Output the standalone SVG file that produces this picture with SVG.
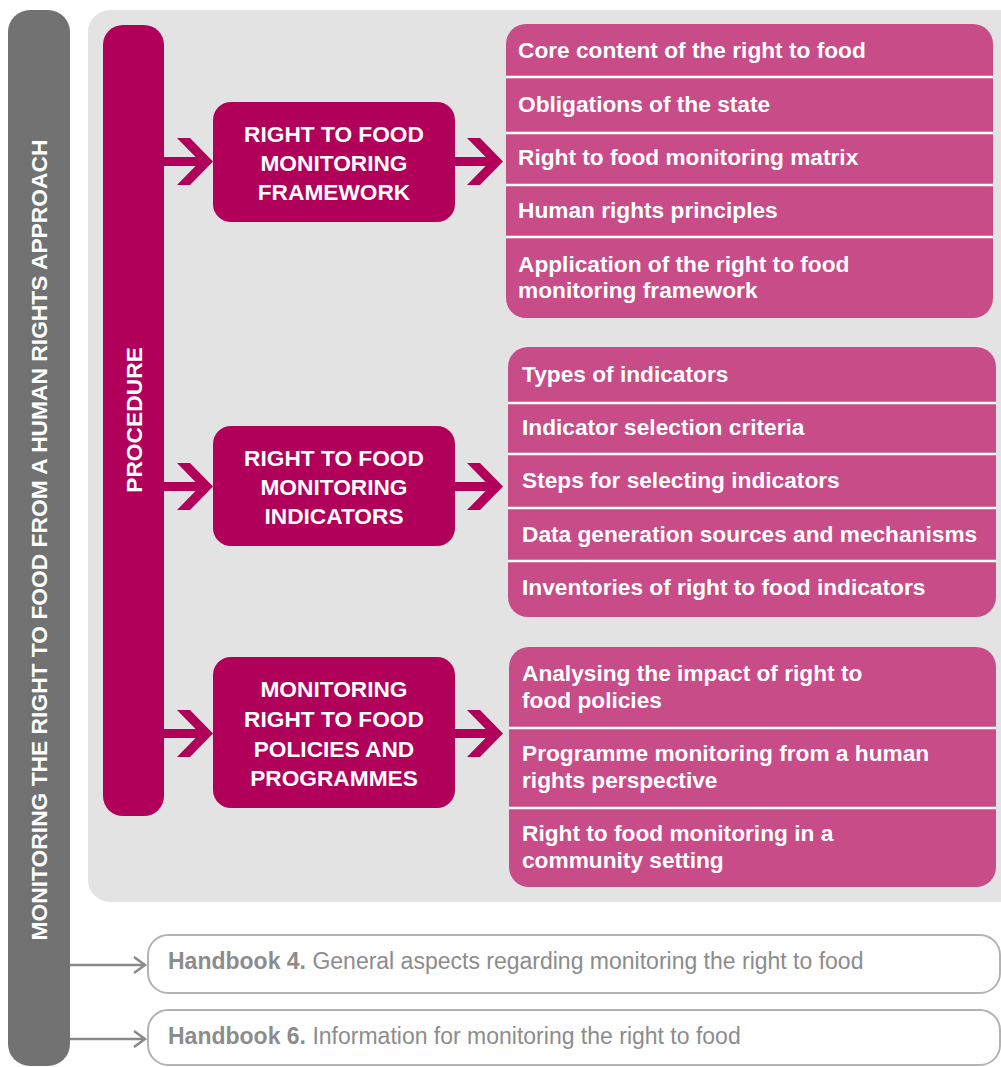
<svg xmlns="http://www.w3.org/2000/svg" width="1001" height="1067" viewBox="0 0 1001 1067">
<style>
.dark{fill:#b0005a}
.list{fill:#c84c88}
.sep{stroke:#ffffff;stroke-width:2.5}
.bt{font-family:"Liberation Sans",Arial,sans-serif;font-weight:bold;font-size:22.7px;fill:#ffffff;text-anchor:middle}
.lt{font-family:"Liberation Sans",Arial,sans-serif;font-weight:bold;font-size:22.7px;fill:#ffffff}
.vt{font-family:"Liberation Sans",Arial,sans-serif;font-weight:bold;font-size:22.8px;fill:#ffffff;text-anchor:middle}
.hb{fill:#ffffff;stroke:#b3b3b3;stroke-width:2}
.ht{font-family:"Liberation Sans",Arial,sans-serif;font-size:23px;fill:#8c8c8c}
.conn{fill:none;stroke:#8a8a8a;stroke-width:2.5}
</style>
<rect width="1001" height="1067" fill="#ffffff"/>
<g id="sidebar">
<rect x="8" y="10" width="62" height="1056" rx="22" fill="#727272"/>
<text class="vt" transform="translate(47,540) rotate(-90)">MONITORING THE RIGHT TO FOOD FROM A HUMAN RIGHTS APPROACH</text>
</g>
<g id="panel">
<rect x="88" y="10" width="940" height="892" rx="22" fill="#e3e3e3"/>
</g>
<g id="procedure">
<rect class="dark" x="103" y="25" width="61" height="791" rx="20"/>
<text class="vt" transform="translate(142,420) rotate(-90)">PROCEDURE</text>
</g>
<g id="connectors">
<rect class="dark" x="164" y="157" width="36" height="9"/>
<polygon class="dark" points="177,138 190,138 213,161.5 190,185 177,185 200,161.5"/>
<rect class="dark" x="455" y="157" width="36" height="9"/>
<polygon class="dark" points="467,138 480,138 503,161.5 480,185 467,185 490,161.5"/>
<rect class="dark" x="164" y="482" width="36" height="9"/>
<polygon class="dark" points="177,463 190,463 213,486.5 190,510 177,510 200,486.5"/>
<rect class="dark" x="455" y="482" width="36" height="9"/>
<polygon class="dark" points="467,463 480,463 503,486.5 480,510 467,510 490,486.5"/>
<rect class="dark" x="164" y="729" width="36" height="9"/>
<polygon class="dark" points="177,710 190,710 213,733.5 190,757 177,757 200,733.5"/>
<rect class="dark" x="455" y="729" width="36" height="9"/>
<polygon class="dark" points="467,710 480,710 503,733.5 480,757 467,757 490,733.5"/>
<line class="conn" x1="70" y1="965" x2="145" y2="965"/>
<polyline class="conn" points="134,957 145,965 134,973"/>
<line class="conn" x1="70" y1="1039" x2="145" y2="1039"/>
<polyline class="conn" points="134,1031 145,1039 134,1047"/>
</g>
<g id="framework">
<rect class="dark" x="213" y="102" width="242" height="120" rx="18"/>
<text class="bt" x="334" y="142">RIGHT TO FOOD</text>
<text class="bt" x="334" y="171">MONITORING</text>
<text class="bt" x="334" y="200">FRAMEWORK</text>
</g>
<g id="indicators">
<rect class="dark" x="213" y="426" width="242" height="120" rx="18"/>
<text class="bt" x="334" y="466">RIGHT TO FOOD</text>
<text class="bt" x="334" y="495">MONITORING</text>
<text class="bt" x="334" y="524">INDICATORS</text>
</g>
<g id="policies">
<rect class="dark" x="213" y="657" width="242" height="151" rx="18"/>
<text class="bt" x="334" y="697">MONITORING</text>
<text class="bt" x="334" y="727">RIGHT TO FOOD</text>
<text class="bt" x="334" y="757">POLICIES AND</text>
<text class="bt" x="334" y="786">PROGRAMMES</text>
</g>
<g id="framework-list">
<rect class="list" x="506" y="24" width="487" height="294" rx="20"/>
<line class="sep" x1="506" y1="77" x2="993" y2="77"/>
<line class="sep" x1="506" y1="133" x2="993" y2="133"/>
<line class="sep" x1="506" y1="185" x2="993" y2="185"/>
<line class="sep" x1="506" y1="237" x2="993" y2="237"/>
<text class="lt" x="518" y="58">Core content of the right to food</text>
<text class="lt" x="518" y="112">Obligations of the state</text>
<text class="lt" x="518" y="165">Right to food monitoring matrix</text>
<text class="lt" x="518" y="218">Human rights principles</text>
<text class="lt" x="518" y="272">Application of the right to food</text>
<text class="lt" x="518" y="298">monitoring framework</text>
</g>
<g id="indicators-list">
<rect class="list" x="508" y="347" width="488" height="270" rx="20"/>
<line class="sep" x1="508" y1="403" x2="996" y2="403"/>
<line class="sep" x1="508" y1="454" x2="996" y2="454"/>
<line class="sep" x1="508" y1="508" x2="996" y2="508"/>
<line class="sep" x1="508" y1="561" x2="996" y2="561"/>
<text class="lt" x="522" y="382">Types of indicators</text>
<text class="lt" x="522" y="435">Indicator selection criteria</text>
<text class="lt" x="522" y="488">Steps for selecting indicators</text>
<text class="lt" x="522" y="542">Data generation sources and mechanisms</text>
<text class="lt" x="522" y="595">Inventories of right to food indicators</text>
</g>
<g id="policies-list">
<rect class="list" x="509" y="647" width="487" height="240" rx="20"/>
<line class="sep" x1="509" y1="728" x2="996" y2="728"/>
<line class="sep" x1="509" y1="808" x2="996" y2="808"/>
<text class="lt" x="522" y="681">Analysing the impact of right to</text>
<text class="lt" x="522" y="708">food policies</text>
<text class="lt" x="522" y="761">Programme monitoring from a human</text>
<text class="lt" x="522" y="788">rights perspective</text>
<text class="lt" x="522" y="841">Right to food monitoring in a</text>
<text class="lt" x="522" y="868">community setting</text>
</g>
<g id="handbook4">
<rect class="hb" x="148" y="935" width="852" height="58" rx="20"/>
<text class="ht" x="168" y="969"><tspan font-weight="bold">Handbook 4.</tspan> General aspects regarding monitoring the right to food</text>
</g>
<g id="handbook6">
<rect class="hb" x="148" y="1010" width="852" height="55" rx="20"/>
<text class="ht" x="168" y="1044"><tspan font-weight="bold">Handbook 6.</tspan> Information for monitoring the right to food</text>
</g>
</svg>
